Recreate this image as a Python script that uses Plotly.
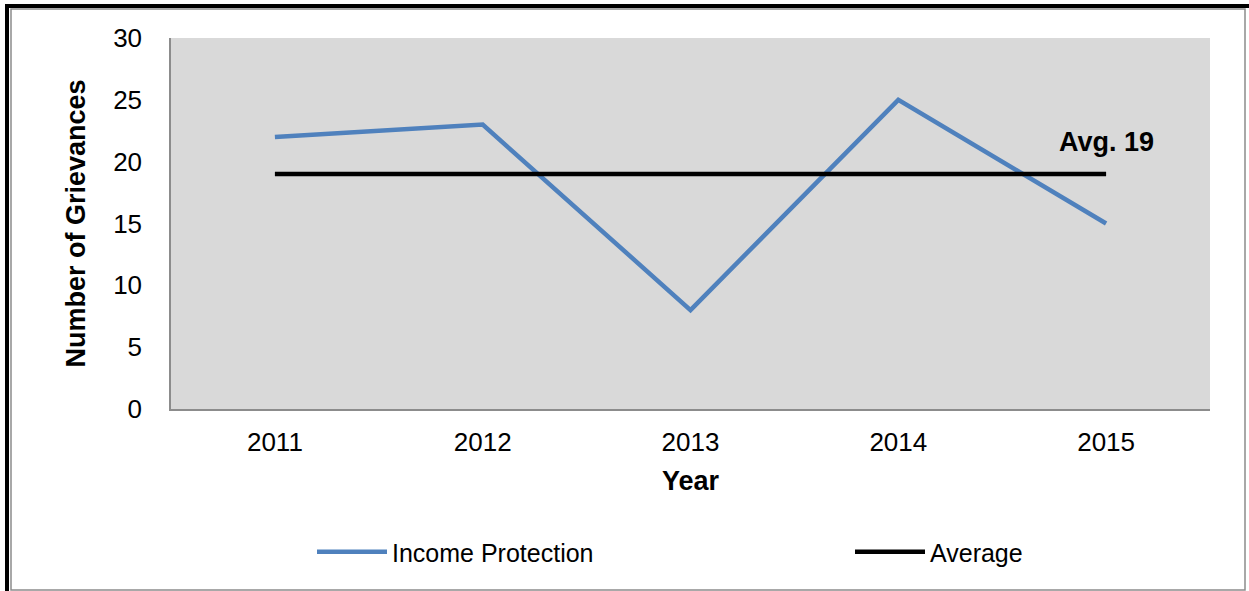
import plotly.graph_objects as go

# Data
years = ["2011", "2012", "2013", "2014", "2015"]
income_protection = [22, 23, 8, 25, 15]
average_value = 19
average = [average_value] * len(years)
y_tick_values = [0, 5, 10, 15, 20, 25, 30]
avg_label = "Avg. 19"

# Canvas and plot-area geometry (pixels)
W, H = 1249, 591
L, R, T, B = 171, 39, 38, 182
PW, PH = W - L - R, H - T - B


def px_x(px):
    return (px - L) / PW


def px_y(py):
    return (H - B - py) / PH


FONT = "Liberation Sans, Arial, sans-serif"
BLUE = "#4f81bd"
LEGEND_FONT = dict(family=FONT, size=25, color="#000000")

fig = go.Figure()
fig.add_trace(go.Scatter(
    x=years, y=income_protection, mode="lines", name="Income Protection",
    line=dict(color=BLUE, width=4.5), legend="legend",
))
fig.add_trace(go.Scatter(
    x=years, y=average, mode="lines", name="Average",
    line=dict(color="#000000", width=4.5), legend="legend2",
))

# Label for the average line, above its right end
fig.add_annotation(
    x=len(years) - 1, y=average_value + 2.6, xref="x", yref="y",
    text=f"<b>{avg_label}</b>", showarrow=False,
    font=dict(family=FONT, size=27, color="#000000"),
)

# Outer frame: thick dark edge on the left/top, thin grey box inside
fig.add_shape(type="rect", xref="paper", yref="paper", layer="above",
              x0=px_x(11), x1=px_x(1245), y0=px_y(9), y1=px_y(590),
              line=dict(color="#8c8c8c", width=1.5))
fig.add_shape(type="line", xref="paper", yref="paper", layer="above",
              x0=px_x(7), x1=px_x(7), y0=px_y(4), y1=px_y(591),
              line=dict(color="#000000", width=4))
fig.add_shape(type="line", xref="paper", yref="paper", layer="above",
              x0=px_x(5), x1=px_x(1249), y0=px_y(6), y1=px_y(6),
              line=dict(color="#000000", width=4))

legend_common = dict(
    orientation="h", xanchor="left", yanchor="middle", y=px_y(552),
    font=LEGEND_FONT, itemwidth=70, bgcolor="rgba(0,0,0,0)",
)

fig.update_layout(
    width=W, height=H,
    margin=dict(l=L, r=R, t=T, b=B, autoexpand=False),
    paper_bgcolor="#ffffff",
    plot_bgcolor="#d9d9d9",
    font=dict(family=FONT, size=26, color="#000000"),
    showlegend=True,
    legend=dict(x=px_x(312), **legend_common),
    legend2=dict(x=px_x(850), **legend_common),
    xaxis=dict(
        type="category", range=[-0.5, 4.5],
        showgrid=False, zeroline=False,
        showline=True, linecolor="#8c8c8c", linewidth=1.5,
        ticks="", ticklabelstandoff=9,
        tickfont=dict(family=FONT, size=26),
        title=dict(text="<b>Year</b>", font=dict(family=FONT, size=27), standoff=15),
    ),
    yaxis=dict(
        range=[0, 30], tickvals=y_tick_values,
        showgrid=False, zeroline=False,
        showline=True, linecolor="#8c8c8c", linewidth=1.5,
        ticks="", ticklabelstandoff=22,
        tickfont=dict(family=FONT, size=26),
        title=dict(text="<b>Number of Grievances</b>", font=dict(family=FONT, size=27), standoff=20),
    ),
)

fig.write_html("out.html")
